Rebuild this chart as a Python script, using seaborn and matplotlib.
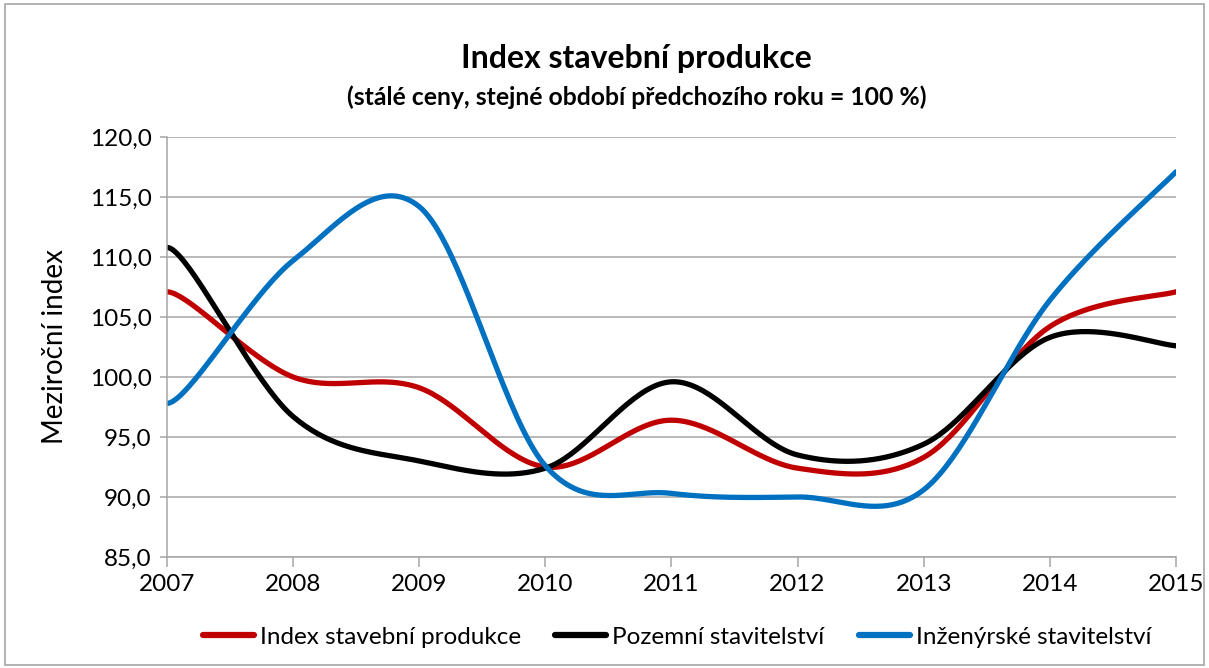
import numpy as np
import pandas as pd
import seaborn as sns
import matplotlib.pyplot as plt
from matplotlib.lines import Line2D

years = [2007, 2008, 2009, 2010, 2011, 2012, 2013, 2014, 2015]
index_total = [107.1, 100.0, 99.1, 92.5, 96.4, 92.4, 93.3, 104.2, 107.1]
pozemni = [110.8, 96.7, 93.0, 92.4, 99.6, 93.5, 94.4, 103.3, 102.6]
inzenyrske = [97.8, 109.7, 114.2, 92.6, 90.3, 90.0, 90.6, 106.4, 117.1]

series_names = ["Index stavební produkce", "Pozemní stavitelství", "Inženýrské stavitelství"]
colors = ["#C00000", "#000000", "#0070C0"]


def smooth(x, y, n=40):
    # Excel-like smoothed line: cubic Bezier through the data points
    x = np.asarray(x, float)
    y = np.asarray(y, float)
    m = len(x)
    xs, ys = [], []
    t = np.linspace(0, 1, n, endpoint=False)
    b0, b1, b2, b3 = (1 - t) ** 3, 3 * (1 - t) ** 2 * t, 3 * (1 - t) * t ** 2, t ** 3
    for i in range(m - 1):
        if i == 0:
            c1x, c1y = x[0] + (x[1] - x[0]) / 6, y[0]
        else:
            c1x, c1y = x[i] + (x[i + 1] - x[i - 1]) / 6, y[i] + (y[i + 1] - y[i - 1]) / 6
        if i + 2 < m:
            c2x, c2y = x[i + 1] - (x[i + 2] - x[i]) / 6, y[i + 1] - (y[i + 2] - y[i]) / 6
        else:
            c2x, c2y = x[i + 1] - (x[i + 1] - x[i]) / 6, y[i + 1] - (y[i + 1] - y[i]) / 6
        xs.extend(b0 * x[i] + b1 * c1x + b2 * c2x + b3 * x[i + 1])
        ys.extend(b0 * y[i] + b1 * c1y + b2 * c2y + b3 * y[i + 1])
    xs.append(x[-1])
    ys.append(y[-1])
    return np.array(xs), np.array(ys)


frames = []
for name, vals in zip(series_names, [index_total, pozemni, inzenyrske]):
    sx, sy = smooth(years, vals)
    frames.append(pd.DataFrame({"rok": sx, "index": sy, "rada": name}))
df = pd.concat(frames, ignore_index=True)

sns.set_theme(style="white")
plt.rcParams["font.family"] = ["Lato", "DejaVu Sans"]
plt.rcParams["text.color"] = "black"
plt.rcParams["axes.labelcolor"] = "black"

fig = plt.figure(figsize=(12.09, 6.68), dpi=100)
ax = fig.add_axes([0.1381, 0.1662, 0.8346, 0.6287])

sns.lineplot(data=df, x="rok", y="index", hue="rada", palette=colors,
             hue_order=series_names, linewidth=3.8, sort=False,
             estimator=None, legend=False, ax=ax)

ax.set_xlim(2007, 2015)
ax.set_ylim(85, 120)
ax.set_xticks(years)
ax.set_xticklabels([str(y) for y in years])
yt = np.arange(85, 121, 5)
ax.set_yticks(yt)
ax.set_yticklabels([f"{v:.1f}".replace(".", ",") for v in yt])
ax.grid(axis="y", color="#A6A6A6", linewidth=1.1)
ax.set_axisbelow(True)
for s in ["top", "right"]:
    ax.spines[s].set_visible(False)
for s in ["left", "bottom"]:
    ax.spines[s].set_color("#A6A6A6")
    ax.spines[s].set_linewidth(1.1)
ax.tick_params(axis="both", labelsize=17.5, colors="black")
ax.tick_params(axis="x", length=7, width=1.1, color="#A6A6A6", pad=5, direction="out", bottom=True)
ax.tick_params(axis="y", length=5, width=1.1, color="#A6A6A6", pad=6, direction="out", left=True)
ax.set_xlabel("")
ax.set_ylabel("Meziroční index", fontsize=20, labelpad=16)

fig.text(0.5265, 0.913, "Index stavební produkce", ha="center", va="center",
         fontsize=23, fontweight="bold")
fig.text(0.5265, 0.855, "(stálé ceny, stejné období předchozího roku = 100 %)",
         ha="center", va="center", fontsize=17.8, fontweight="bold")

handles = [Line2D([0], [0], color=c, linewidth=4.5) for c in colors]
fig.legend(handles, series_names, loc="center", bbox_to_anchor=(0.56, 0.046),
           ncol=3, frameon=False, fontsize=17.5, handlelength=2.1,
           handletextpad=0.25, columnspacing=1.4)

border = plt.Rectangle((0.004, 0.004), 0.992, 0.99, transform=fig.transFigure,
                       fill=False, edgecolor="#A6A6A6", linewidth=1.2)
fig.patches.append(border)

fig.savefig("out.png", dpi=100)
